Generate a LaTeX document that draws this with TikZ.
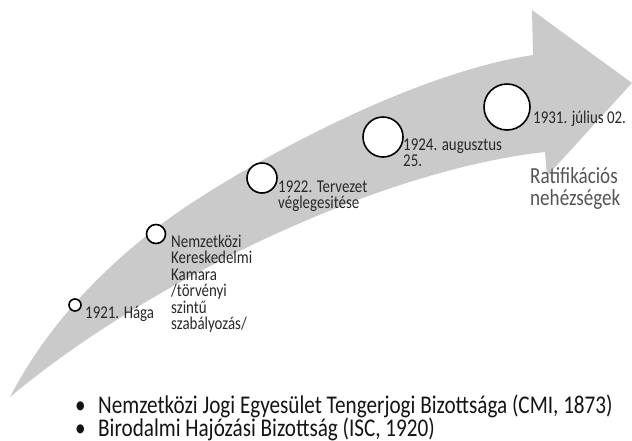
\documentclass[tikz,border=0pt]{standalone}
\usepackage{fontspec}
\setmainfont[FakeStretch=0.83]{Carlito}
\definecolor{arrowgray}{RGB}{202,202,202}
\definecolor{lblgray}{RGB}{40,40,40}
\definecolor{ratgray}{RGB}{85,85,85}
\newcommand{\lns}[1]{\vtop{\halign{##\hfil\cr#1\crcr}}}
\begin{document}
\begin{tikzpicture}[x=1pt,y=-1pt,
  ring/.style={circle, draw=black, line width=1.6pt, fill=white, inner sep=0pt},
  lbl/.style={inner sep=0pt, anchor=base west, text=lblgray,
              font=\fontsize{18}{16.5}\selectfont},
  rat/.style={inner sep=0pt, anchor=base west, text=ratgray,
              font=\fontsize{23}{22}\selectfont},
  bul/.style={inner sep=0pt, anchor=base west, text=black!92,
              font=\fontsize{25.5}{23}\selectfont}]
\useasboundingbox (0,0) rectangle (632,440);
% arrow
\fill[arrowgray] (10,397) .. controls (50,320) and (110,262) .. (167,220)
  .. controls (224,178) and (400,75) .. (533,55)
  -- (532,10) -- (632,83) -- (547,176) -- (545,152)
  .. controls (380,170) and (150,280) .. (10,397) -- cycle;
% circles
\node[ring, minimum size=12pt] (c1) at (75,305) {};
\node[ring, minimum size=19pt] (c2) at (156,234) {};
\node[ring, minimum size=30pt] (c3) at (262,178) {};
\node[ring, minimum size=40pt] (c4) at (383,137) {};
\node[ring, minimum size=46pt] (c5) at (507,107) {};
% labels
\node[lbl] (t1) at (85,318) {1921. Hága};
\node[lbl] (t2) at (171,247) {\lns{Nemzetközi\cr Kereskedelmi\cr Kamara\cr /törvényi\cr szintű\cr szabályozás/}};
\node[lbl] (t3) at (278,192) {\lns{1922. Tervezet\cr véglegesitése}};
\node[lbl] (t4) at (403,150) {\lns{1924. augusztus\cr 25.}};
\node[lbl] (t5) at (533,123) {1931. július 02.};
\node[rat] (r) at (530,183) {\lns{Ratifikációs\cr nehézségek}};
% bullets
\node[bul] (b1) at (75,413) {\makebox[23pt][l]{•}Nemzetközi Jogi Egyesület Tengerjogi Bizottsága (CMI, 1873)};
\node[bul] (b2) at (75,436) {\makebox[23pt][l]{•}Birodalmi Hajózási Bizottság (ISC, 1920)};
\end{tikzpicture}
\end{document}
